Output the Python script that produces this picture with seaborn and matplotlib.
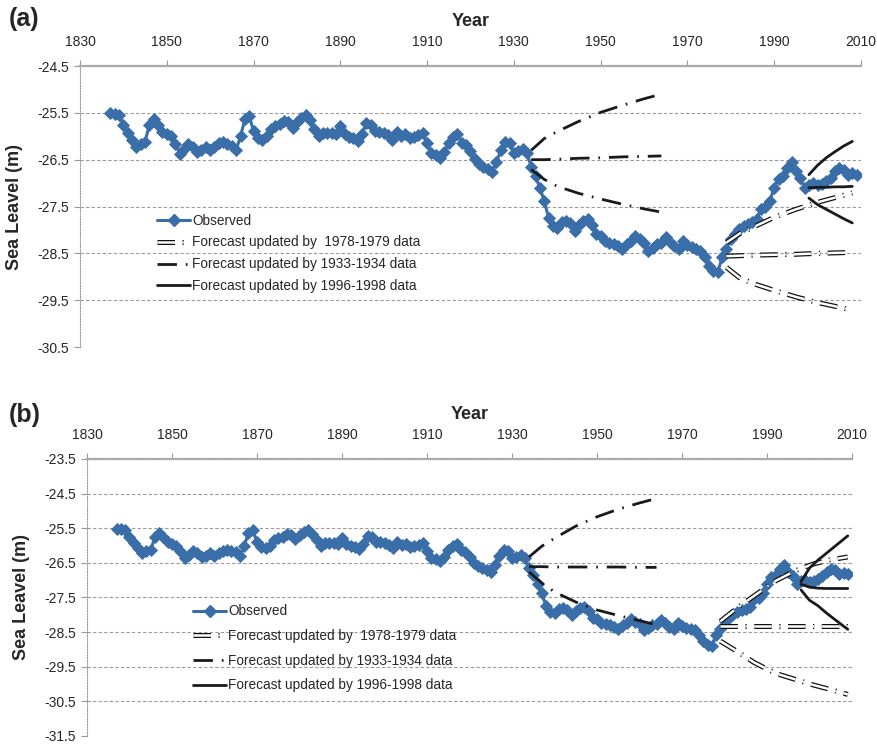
import seaborn as sns
import matplotlib.pyplot as plt
import matplotlib.patheffects as pe
from matplotlib.lines import Line2D
import pandas as pd

# observed sea level (m), one value per year 1837-2009
years = list(range(1837, 2010))
observed = [
    -25.51, -25.53, -25.55, -25.75, -25.93, -26.08, -26.22, -26.17, -26.12, -25.75,
    -25.63, -25.75, -25.90, -25.96, -26.00, -26.17, -26.37, -26.27, -26.17, -26.22,
    -26.33, -26.30, -26.22, -26.29, -26.22, -26.15, -26.13, -26.16, -26.20, -26.29,
    -26.00, -25.64, -25.56, -25.89, -26.03, -26.07, -26.00, -25.84, -25.78, -25.74,
    -25.68, -25.70, -25.82, -25.70, -25.60, -25.54, -25.66, -25.85, -26.00, -25.93,
    -25.94, -25.93, -25.96, -25.78, -25.96, -26.01, -26.03, -26.10, -25.96, -25.71,
    -25.76, -25.89, -25.90, -25.94, -25.98, -26.07, -25.90, -25.99, -25.96, -26.03,
    -26.01, -25.97, -25.93, -26.15, -26.36, -26.40, -26.46, -26.34, -26.14, -26.02,
    -25.96, -26.14, -26.18, -26.32, -26.49, -26.59, -26.65, -26.70, -26.77, -26.55,
    -26.30, -26.12, -26.15, -26.35, -26.32, -26.27, -26.35, -26.65, -26.85, -27.10,
    -27.38, -27.74, -27.91, -27.95, -27.84, -27.81, -27.85, -28.02, -27.90, -27.80,
    -27.77, -27.90, -28.08, -28.13, -28.24, -28.27, -28.30, -28.34, -28.41, -28.30,
    -28.24, -28.13, -28.20, -28.27, -28.45, -28.38, -28.30, -28.28, -28.16, -28.25,
    -28.34, -28.41, -28.23, -28.32, -28.37, -28.40, -28.44, -28.58, -28.76, -28.87,
    -28.90, -28.58, -28.41, -28.19, -28.09, -27.98, -27.92, -27.87, -27.82, -27.77,
    -27.55, -27.52, -27.38, -27.10, -26.92, -26.85, -26.68, -26.56, -26.75, -26.89,
    -27.10, -27.03, -27.00, -27.05, -27.02, -26.96, -26.89, -26.75, -26.68, -26.72,
    -26.82, -26.78, -26.82,
]

# panel (a) forecasts
a33_years = [1934, 1937, 1940, 1945, 1950, 1955, 1960, 1964]
a33_mid = [-26.50, -26.50, -26.49, -26.47, -26.46, -26.44, -26.43, -26.42]
a33_up = [-26.30, -26.05, -25.90, -25.68, -25.49, -25.34, -25.20, -25.10]
a33_lo = [-26.71, -26.92, -27.07, -27.22, -27.34, -27.45, -27.55, -27.62]

a78_years = [1979, 1982, 1985, 1990, 1995, 2000, 2004, 2008]
a78_mid = [-28.56, -28.55, -28.54, -28.53, -28.52, -28.50, -28.49, -28.48]
a78_up = [-28.27, -28.08, -27.95, -27.73, -27.56, -27.41, -27.31, -27.21]
a78_lo = [-28.80, -29.02, -29.14, -29.29, -29.43, -29.55, -29.63, -29.71]

a96_years = [1998, 2000, 2002, 2004, 2006, 2008]
a96_mid = [-27.10, -27.09, -27.09, -27.08, -27.08, -27.07]
a96_up = [-26.82, -26.62, -26.46, -26.33, -26.21, -26.11]
a96_lo = [-27.32, -27.46, -27.56, -27.66, -27.76, -27.85]

# panel (b) forecasts
b33_years = [1934, 1937, 1940, 1945, 1950, 1955, 1960, 1964]
b33_mid = [-26.61, -26.61, -26.62, -26.62, -26.62, -26.62, -26.63, -26.63]
b33_up = [-26.33, -26.02, -25.79, -25.44, -25.17, -24.95, -24.77, -24.64]
b33_lo = [-26.76, -27.08, -27.34, -27.63, -27.86, -28.02, -28.17, -28.29]

b78_years = [1979, 1983, 1987, 1992, 1997, 2001, 2005, 2009]
b78_mid = [-28.33, -28.33, -28.33, -28.33, -28.33, -28.33, -28.33, -28.33]
b78_up = [-28.19, -27.80, -27.45, -27.02, -26.71, -26.53, -26.41, -26.33]
b78_lo = [-28.76, -29.06, -29.38, -29.69, -29.88, -30.03, -30.16, -30.30]

b96_years = [1998, 2000, 2002, 2004, 2006, 2009]
b96_mid = [-27.12, -27.20, -27.23, -27.24, -27.24, -27.24]
b96_up = [-27.04, -26.65, -26.42, -26.22, -26.02, -25.72]
b96_lo = [-27.28, -27.58, -27.74, -27.95, -28.14, -28.42]

labels = ["Observed",
          "Forecast updated by  1978-1979 data",
          "Forecast updated by 1933-1934 data",
          "Forecast updated by 1996-1998 data"]

sns.set_style("white")
plt.rcParams["font.family"] = ["Liberation Sans", "DejaVu Sans"]

blue = "#3a6ea8"
grid_c = "#9a9a9a"
dd_33 = (0, (7, 3.2, 0.6, 3.2))
dd_78 = (0, (7, 3.0, 0.5, 3.0))
outline = [pe.Stroke(linewidth=3.6, foreground="#111111"), pe.Normal()]

fig = plt.figure(figsize=(8.77, 7.45), dpi=100)
ax_a = fig.add_axes([0.0912, 0.5342, 0.8905, 0.3772])
ax_b = fig.add_axes([0.0992, 0.0121, 0.8723, 0.3718])

obs_df = pd.DataFrame({"Year": years, "Level": observed})


def draw_panel(ax, ylo, yhi, f33, f78, f96):
    sns.lineplot(data=obs_df, x="Year", y="Level", ax=ax, color=blue, lw=2.2,
                 marker="D", markersize=6.5, markeredgewidth=0.6,
                 markeredgecolor=blue, zorder=3)
    for ys in f33[1:]:
        sns.lineplot(x=f33[0], y=ys, ax=ax, color="#1a1a1a", lw=2.0,
                     linestyle=dd_33, zorder=4)
    for ys in f78[1:]:
        sns.lineplot(x=f78[0], y=ys, ax=ax, color="white", lw=1.8,
                     linestyle=dd_78, path_effects=outline, zorder=4)
    for ys in f96[1:]:
        sns.lineplot(x=f96[0], y=ys, ax=ax, color="#1a1a1a", lw=2.0,
                     zorder=4)

    ax.set_xlim(1830, 2010)
    ax.set_ylim(ylo, yhi)
    ax.set_xticks(range(1830, 2011, 20))
    yt = [ylo + i for i in range(int(round(yhi - ylo)) + 1)]
    ax.set_yticks(yt)
    ax.set_yticklabels([f"{v:.1f}" for v in yt])
    ax.xaxis.tick_top()
    ax.xaxis.set_label_position("top")
    ax.set_xlabel("Year", fontsize=13, fontweight="bold", labelpad=7)
    ax.set_ylabel("Sea Leavel (m)", fontsize=13, fontweight="bold", labelpad=10)
    ax.tick_params(axis="x", top=True, bottom=False, direction="out",
                   length=4, color="#999999", labelsize=10, pad=8)
    ax.tick_params(axis="y", left=True, direction="out", length=4,
                   color="#999999", labelsize=10, pad=4)
    ax.yaxis.grid(True, linestyle=(0, (3, 2)), color=grid_c, lw=0.8)
    ax.yaxis.get_gridlines()[0].set_visible(False)
    for s in ["right", "bottom"]:
        ax.spines[s].set_visible(False)
    ax.spines["top"].set_color("#aaaaaa")
    ax.spines["top"].set_linewidth(1.6)
    ax.spines["left"].set_color(grid_c)
    ax.spines["left"].set_linestyle((0, (1, 1.5)))
    ax.spines["left"].set_linewidth(0.8)
    ax.get_legend() and ax.get_legend().remove()


draw_panel(ax_a, -30.5, -24.5,
           (a33_years, a33_mid, a33_up, a33_lo),
           (a78_years, a78_mid, a78_up, a78_lo),
           (a96_years, a96_mid, a96_up, a96_lo))
draw_panel(ax_b, -31.5, -23.5,
           (b33_years, b33_mid, b33_up, b33_lo),
           (b78_years, b78_mid, b78_up, b78_lo),
           (b96_years, b96_mid, b96_up, b96_lo))

handles = [
    Line2D([], [], color=blue, lw=2.2, marker="D", markersize=6),
    Line2D([], [], color="white", lw=1.8, linestyle=dd_78, path_effects=outline),
    Line2D([], [], color="#1a1a1a", lw=2.0, linestyle=dd_33),
    Line2D([], [], color="#1a1a1a", lw=2.0),
]
ax_a.legend(handles, labels, loc="upper left", bbox_to_anchor=(0.099, 0.475),
            frameon=False, fontsize=9.8, borderpad=0, borderaxespad=0,
            handlelength=2.4, handletextpad=0.15, labelspacing=0.58)
ax_b.legend(handles, labels, loc="upper left", bbox_to_anchor=(0.139, 0.475),
            frameon=False, fontsize=9.8, borderpad=0, borderaxespad=0,
            handlelength=2.4, handletextpad=0.15, labelspacing=0.78)

fig.text(0.010, 0.975, "(a)", fontsize=18, fontweight="bold", va="center")
fig.text(0.010, 0.443, "(b)", fontsize=18, fontweight="bold", va="center")

fig.savefig("out.png", dpi=100)
